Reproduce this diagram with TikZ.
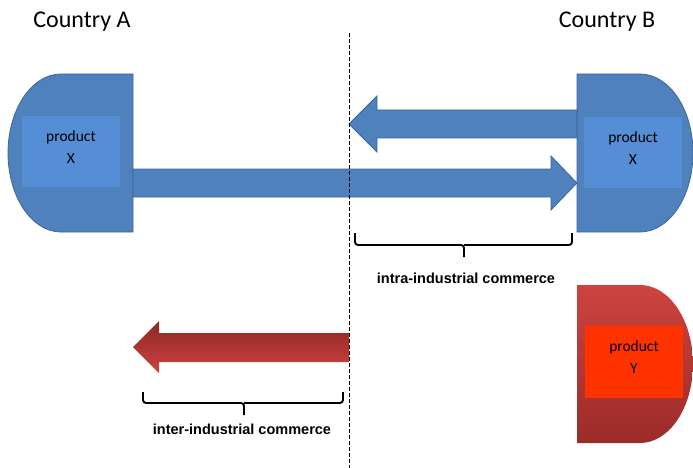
\documentclass[tikz,border=0pt]{standalone}
\usepackage{fontspec}
\setmainfont{Carlito}
\newfontfamily\arialfont{Liberation Sans}
\definecolor{blockblue}{HTML}{4F81BD}
\definecolor{edgeblue}{HTML}{3D679A}
\definecolor{innerblue}{HTML}{558ED5}
\definecolor{redtop}{HTML}{CD4340}
\definecolor{redbottom}{HTML}{9C2B28}
\definecolor{innerred}{HTML}{FF3300}
\begin{document}
\begin{tikzpicture}[x=1pt,y=-1pt,
  country/.style={anchor=base,font=\fontsize{24}{28}\selectfont},
  product/.style={inner sep=0pt,align=center,text depth=9pt,font=\fontsize{15.5}{22}\selectfont},
  commerce/.style={font=\arialfont\bfseries\fontsize{14.5}{16}\selectfont},
  bluepart/.style={fill=blockblue,draw=edgeblue,line width=0.8pt},
  bracket/.style={draw=black,line width=1.9pt,rounded corners=3pt}]
\useasboundingbox (0,0) rectangle (693,468);
\node[country] (countryA) at (82,28) {Country A};
\node[country] (countryB) at (607,28) {Country B};
\draw[bluepart] (133,74) -- (61,74) .. controls (31.7,74) and (8,109.4) .. (8,153) .. controls (8,196.6) and (31.7,232) .. (61,232) -- (133,232) -- cycle;
\draw[bluepart] (577,74) -- (640,74) .. controls (669.3,74) and (693,109.4) .. (693,153) .. controls (693,196.6) and (669.3,232) .. (640,232) -- (577,232) -- cycle;
\shade[top color=redtop,bottom color=redbottom] (577,285) -- (640,285) .. controls (669.3,285) and (693,320.4) .. (693,364) .. controls (693,407.6) and (669.3,443) .. (640,443) -- (577,443) -- cycle;
\draw[bluepart] (133,169) -- (551,169) -- (551,156) -- (577,183) -- (551,210) -- (551,197) -- (133,197) -- cycle;
\draw[bluepart] (577,110) -- (377,110) -- (377,96) -- (349,124) -- (377,152) -- (377,138) -- (577,138) -- cycle;
\shade[top color=redbottom!90!black,bottom color=redtop] (349,333) -- (159,333) -- (159,321) -- (133,347) -- (159,373) -- (159,362) -- (349,362) -- cycle;
\node[product,fill=innerblue,minimum width=98pt,minimum height=71pt] (prodAX) at (71,151.5) {product\\X};
\node[product,fill=innerblue,minimum width=98pt,minimum height=71pt] (prodBX) at (633,152.5) {product\\X};
\node[product,fill=innerred,minimum width=98pt,minimum height=72pt] (prodBY) at (634,362) {product\\Y};
\draw[bracket] (355,233) |- (464,245) -- (464,257) (464,245) -| (572,233);
\draw[bracket] (143,392) |- (244,403) -- (244,415) (244,403) -| (343,392);
\node[commerce] (intra) at (466,278) {intra-industrial commerce};
\node[commerce] (inter) at (242,429) {inter-industrial commerce};
\draw[dash pattern=on 4pt off 2pt,line width=0.8pt] (349,33) -- (349,468);
\end{tikzpicture}
\end{document}
